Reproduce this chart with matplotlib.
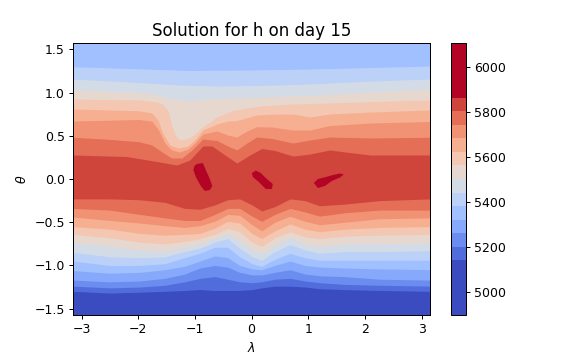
import numpy as np
import matplotlib
matplotlib.use("Agg")
import matplotlib.pyplot as plt
from matplotlib.colors import ListedColormap, Normalize
from matplotlib.cm import ScalarMappable

# contour levels of h (20 bands)
levels = np.linspace(4898, 6106, 21)

# ---- south side: theta of each level crossing, on a common lambda grid ----
lam_s = [-3.15, -2.50, -1.97, -1.53, -1.18, -0.91, -0.65, -0.42, -0.21, 0.01,
         0.18, 0.41, 0.68, 0.94, 1.20, 1.65, 2.26, 3.15]
s_15_14 = [-0.23, -0.23, -0.24, -0.27, -0.34, -0.35, -0.30, -0.24, -0.23, -0.30,
           -0.37, -0.32, -0.23, -0.25, -0.31, -0.29, -0.25, -0.23]
s_14_13 = [-0.34, -0.36, -0.41, -0.45, -0.48, -0.48, -0.41, -0.34, -0.34, -0.43,
           -0.49, -0.41, -0.34, -0.38, -0.43, -0.39, -0.36, -0.36]
s_13_12 = [-0.44, -0.48, -0.51, -0.54, -0.56, -0.54, -0.49, -0.41, -0.42, -0.53,
           -0.60, -0.50, -0.43, -0.49, -0.53, -0.50, -0.46, -0.45]
s_12_11 = [-0.55, -0.58, -0.63, -0.65, -0.64, -0.63, -0.57, -0.49, -0.51, -0.63,
           -0.69, -0.60, -0.52, -0.58, -0.61, -0.58, -0.56, -0.55]
s_11_10 = [-0.64, -0.68, -0.73, -0.75, -0.72, -0.69, -0.64, -0.57, -0.61, -0.73,
           -0.78, -0.68, -0.61, -0.67, -0.69, -0.66, -0.65, -0.64]
s_10_9 = [-0.74, -0.78, -0.82, -0.83, -0.79, -0.75, -0.69, -0.64, -0.71, -0.82,
          -0.86, -0.76, -0.68, -0.75, -0.78, -0.75, -0.75, -0.74]
s_9_8 = [-0.85, -0.90, -0.91, -0.90, -0.84, -0.80, -0.73, -0.69, -0.80, -0.90,
         -0.94, -0.84, -0.76, -0.82, -0.86, -0.84, -0.84, -0.83]
s_8_7 = [-0.95, -1.00, -1.00, -0.98, -0.91, -0.86, -0.79, -0.79, -0.90, -0.98,
         -1.01, -0.93, -0.86, -0.91, -0.94, -0.94, -0.94, -0.94]
s_7_6 = [-1.06, -1.09, -1.08, -1.05, -1.01, -0.95, -0.89, -0.91, -1.00, -1.04,
         -1.05, -1.00, -0.95, -1.00, -1.02, -1.03, -1.04, -1.05]
s_6_5 = [-1.17, -1.19, -1.18, -1.15, -1.10, -1.03, -1.00, -1.02, -1.08, -1.11,
         -1.11, -1.08, -1.05, -1.10, -1.12, -1.13, -1.16, -1.17]
s_5_4 = [-1.24, -1.26, -1.25, -1.23, -1.19, -1.15, -1.13, -1.16, -1.19, -1.20,
         -1.19, -1.16, -1.15, -1.18, -1.20, -1.22, -1.23, -1.24]
s_4_3 = [-1.30, -1.32, -1.31, -1.30, -1.29, -1.28, -1.29, -1.29, -1.29, -1.28,
         -1.26, -1.24, -1.24, -1.25, -1.27, -1.28, -1.29, -1.30]

# ---- north side: (lambda, theta) of each level crossing ----
n_15_14_lam = [-3.15, -2.20, -1.62, -1.32, -1.09, -0.86, -0.70, -0.52, -0.26, -0.03,
               0.18, 0.41, 0.73, 1.03, 1.38, 1.65, 2.09, 3.15]
n_15_14 = [0.278, 0.260, 0.197, 0.162, 0.220, 0.382, 0.382, 0.301, 0.185, 0.278,
           0.353, 0.330, 0.266, 0.289, 0.336, 0.313, 0.278, 0.278]
n_14_13_lam = [-3.15, -2.59, -1.99, -1.76, -1.58, -1.41, -1.23, -1.05, -0.86, -0.61,
               -0.42, -0.26, -0.08, 0.09, 0.36, 0.73, 1.03, 1.38, 2.09, 3.15]
n_14_13 = [0.483, 0.463, 0.432, 0.394, 0.313, 0.243, 0.243, 0.336, 0.463, 0.446,
           0.382, 0.336, 0.417, 0.486, 0.469, 0.417, 0.451, 0.486, 0.475, 0.483]
n_13_12_lam = [-3.15, -1.99, -1.76, -1.64, -1.53, -1.41, -1.27, -1.12, -1.00, -0.86,
               -0.61, -0.42, -0.26, -0.08, 0.09, 0.36, 0.73, 1.03, 1.38, 2.09, 3.15]
n_13_12 = [0.671, 0.689, 0.671, 0.567, 0.417, 0.336, 0.313, 0.347, 0.417, 0.521,
           0.556, 0.509, 0.486, 0.556, 0.605, 0.602, 0.567, 0.567, 0.619, 0.648, 0.666]
n_12_11_lam = [-3.15, -1.99, -1.76, -1.65, -1.57, -1.44, -1.30, -1.14, -1.00, -0.86,
               -0.61, -0.42, -0.26, 0.09, 0.41, 0.73, 1.03, 1.38, 2.09, 3.15]
n_12_11 = [0.810, 0.790, 0.764, 0.683, 0.532, 0.394, 0.359, 0.376, 0.451, 0.567,
           0.637, 0.671, 0.677, 0.741, 0.752, 0.752, 0.718, 0.752, 0.775, 0.799]
n_11_10_lam = [-3.15, -1.97, -1.71, -1.57, -1.48, -1.41, -1.35, -1.27, -1.14, -1.02,
               -0.86, -0.61, -0.33, 0.15, 0.73, 1.38, 2.49, 3.15]
n_11_10 = [0.926, 0.914, 0.897, 0.868, 0.799, 0.625, 0.509, 0.451, 0.463, 0.509,
           0.602, 0.718, 0.793, 0.845, 0.868, 0.880, 0.903, 0.914]
n_10_9_lam = [-3.15, -2.15, -1.71, -1.41, -1.09, -0.74, 0.09, 1.03, 2.09, 3.15]
n_10_9 = [1.030, 1.007, 0.984, 0.926, 0.903, 0.926, 0.949, 0.966, 1.007, 1.036]
n_9_8_lam = [-3.15, -2.15, -1.27, -0.56, 0.50, 1.03, 1.74, 2.62, 3.15]
n_9_8 = [1.157, 1.123, 1.088, 1.076, 1.088, 1.100, 1.123, 1.146, 1.157]
n_8_7_lam = [-3.15, -2.15, -1.09, -0.03, 1.03, 2.09, 3.15]
n_8_7 = [1.300, 1.279, 1.256, 1.262, 1.273, 1.290, 1.308]

# ---- small closed patches above the top level near the equator ----
blob1_lam = [-0.965, -0.859, -0.806, -0.736, -0.692, -0.736, -0.824, -0.895, -0.983, -1.027, -1.009]
blob1_th = [0.174, 0.185, 0.104, 0.000, -0.081, -0.127, -0.139, -0.081, 0.023, 0.104, 0.150]
blob2_lam = [0.005, 0.076, 0.164, 0.270, 0.376, 0.358, 0.252, 0.129, 0.023]
blob2_th = [0.069, 0.098, 0.069, 0.000, -0.058, -0.116, -0.116, -0.035, 0.023]
blob3_lam = [1.099, 1.170, 1.311, 1.435, 1.558, 1.629, 1.558, 1.417, 1.293, 1.170]
blob3_th = [-0.046, 0.000, 0.023, 0.046, 0.064, 0.052, 0.017, -0.023, -0.081, -0.104]

# band colours: outer bands saturate at the ends of coolwarm
mids = (levels[:-1] + levels[1:]) / 2
band_norm = Normalize(mids[3], mids[16])
colors = plt.cm.coolwarm(np.clip(band_norm(mids), 0, 1))

fig = plt.figure(figsize=(6.4, 4.0), dpi=90)
ax = fig.add_axes([0.1276, 0.1258, 0.6182, 0.7539])
cax = fig.add_axes([0.783, 0.1258, 0.0255, 0.7539])

ax.set_facecolor(colors[15])
south = [(s_15_14, 14), (s_14_13, 13), (s_13_12, 12), (s_12_11, 11), (s_11_10, 10),
         (s_10_9, 9), (s_9_8, 8), (s_8_7, 7), (s_7_6, 6), (s_6_5, 5), (s_5_4, 4),
         (s_4_3, 3)]
for th, band in south:
    ax.fill_between(lam_s, -np.pi / 2, th, color=colors[band], lw=0)

north = [(n_15_14_lam, n_15_14, 14), (n_14_13_lam, n_14_13, 13),
         (n_13_12_lam, n_13_12, 12), (n_12_11_lam, n_12_11, 11),
         (n_11_10_lam, n_11_10, 10), (n_10_9_lam, n_10_9, 9),
         (n_9_8_lam, n_9_8, 8), (n_8_7_lam, n_8_7, 7)]
for lam, th, band in north:
    ax.fill_between(lam, th, np.pi / 2, color=colors[band], lw=0)

for bl, bt in [(blob1_lam, blob1_th), (blob2_lam, blob2_th), (blob3_lam, blob3_th)]:
    ax.fill(bl, bt, color=colors[16], lw=0)

ax.set_xlim(-np.pi, np.pi)
ax.set_ylim(-np.pi / 2, np.pi / 2)
ax.set_title("Solution for h on day 15", fontsize=13.3)
ax.set_xlabel(r"$\lambda$")
ax.set_ylabel(r"$\theta$")

sm = ScalarMappable(norm=Normalize(levels[0], levels[-1]), cmap=ListedColormap(colors))
fig.colorbar(sm, cax=cax)

fig.savefig("out.png", dpi=90)
